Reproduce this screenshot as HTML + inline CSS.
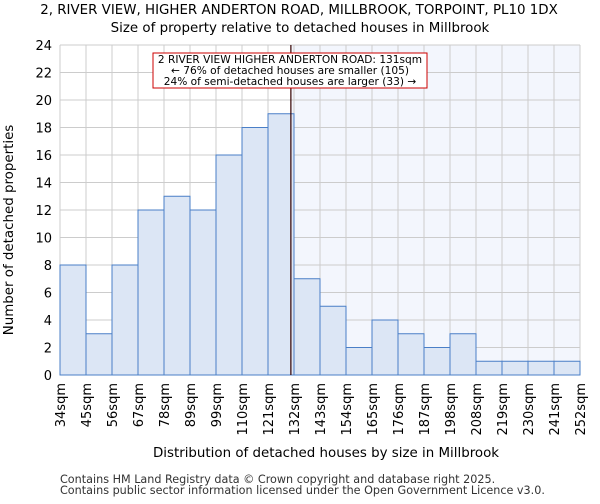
<!DOCTYPE html>
<html><head><meta charset="utf-8"><style>
body{margin:0;background:#fff;font-family:"DejaVu Sans","Liberation Sans",sans-serif}
</style></head><body>
<svg id="c" width="600" height="500" xmlns="http://www.w3.org/2000/svg" style="font-family:'DejaVu Sans','Liberation Sans',sans-serif">
<text x="299" y="14" text-anchor="middle" font-size="13.4">2, RIVER VIEW, HIGHER ANDERTON ROAD, MILLBROOK, TORPOINT, PL10 1DX</text>
<text x="300" y="32" text-anchor="middle" font-size="13.4">Size of property relative to detached houses in Millbrook</text>
<g id="plot"></g>
<text x="326" y="457" text-anchor="middle" font-size="13.4">Distribution of detached houses by size in Millbrook</text>
<text transform="translate(13,230) rotate(-90)" text-anchor="middle" font-size="13.4">Number of detached properties</text>
<text x="60" y="483" font-size="11.2" fill="#333">Contains HM Land Registry data © Crown copyright and database right 2025.</text>
<text x="60" y="494" font-size="11.2" fill="#333">Contains public sector information licensed under the Open Government Licence v3.0.</text>
</svg>
<script>
const categories=["34sqm","45sqm","56sqm","67sqm","78sqm","89sqm","99sqm","110sqm","121sqm","132sqm","143sqm","154sqm","165sqm","176sqm","187sqm","198sqm","208sqm","219sqm","230sqm","241sqm","252sqm"];
const values=[8,3,8,12,13,12,16,18,19,7,5,2,4,3,2,3,1,1,1,1];
const yTicks=[0,2,4,6,8,10,12,14,16,18,20,22,24];
const markerIndex=8.88;
const ns="http://www.w3.org/2000/svg";
const L=60,R=580,T=45,B=375,yMax=24;
const bw=(R-L)/values.length;
const xs=i=>L+i*bw, ys=v=>B-(v/yMax)*(B-T);
const g=document.getElementById('plot');
function mk(t,a,p){const e=document.createElementNS(ns,t);for(const k in a)e.setAttribute(k,a[k]);(p||g).appendChild(e);return e;}
const mx=xs(markerIndex);
let e=mk('rect',{x:mx,y:T,width:R-mx,height:B-T,fill:'#f3f6fd'});


yTicks.forEach(v=>{const l=mk('line',{x1:L,x2:R,y1:ys(v),y2:ys(v),stroke:'#ccc','stroke-width':1});


const t=mk('text',{x:L-8,y:ys(v)+5,'text-anchor':'end','font-size':13});t.textContent=v;

});
categories.forEach((c,i)=>{const x=xs(i);const l=mk('line',{x1:x,x2:x,y1:T,y2:B,stroke:'#ccc','stroke-width':1});


const t=mk('text',{transform:`translate(${x+5},${B+8}) rotate(-90)`,'text-anchor':'end','font-size':13});t.textContent=c;

});
values.forEach((v,i)=>{const r=mk('rect',{x:xs(i),y:ys(v),width:bw,height:B-ys(v),fill:'#dce6f5',stroke:'#4a7fc7','stroke-width':1});

});
e=mk('line',{x1:mx,x2:mx,y1:T,y2:B,stroke:'#300','stroke-width':1.2});


e=mk('rect',{x:153,y:53,width:274,height:35,fill:'#fff',stroke:'#c00','stroke-width':1});


["2 RIVER VIEW HIGHER ANDERTON ROAD: 131sqm","← 76% of detached houses are smaller (105)","24% of semi-detached houses are larger (33) →"].forEach((s,i)=>{const t=mk('text',{x:290,y:63+i*11,'text-anchor':'middle','font-size':10.6});t.textContent=s;

});
</script>
</body></html>
